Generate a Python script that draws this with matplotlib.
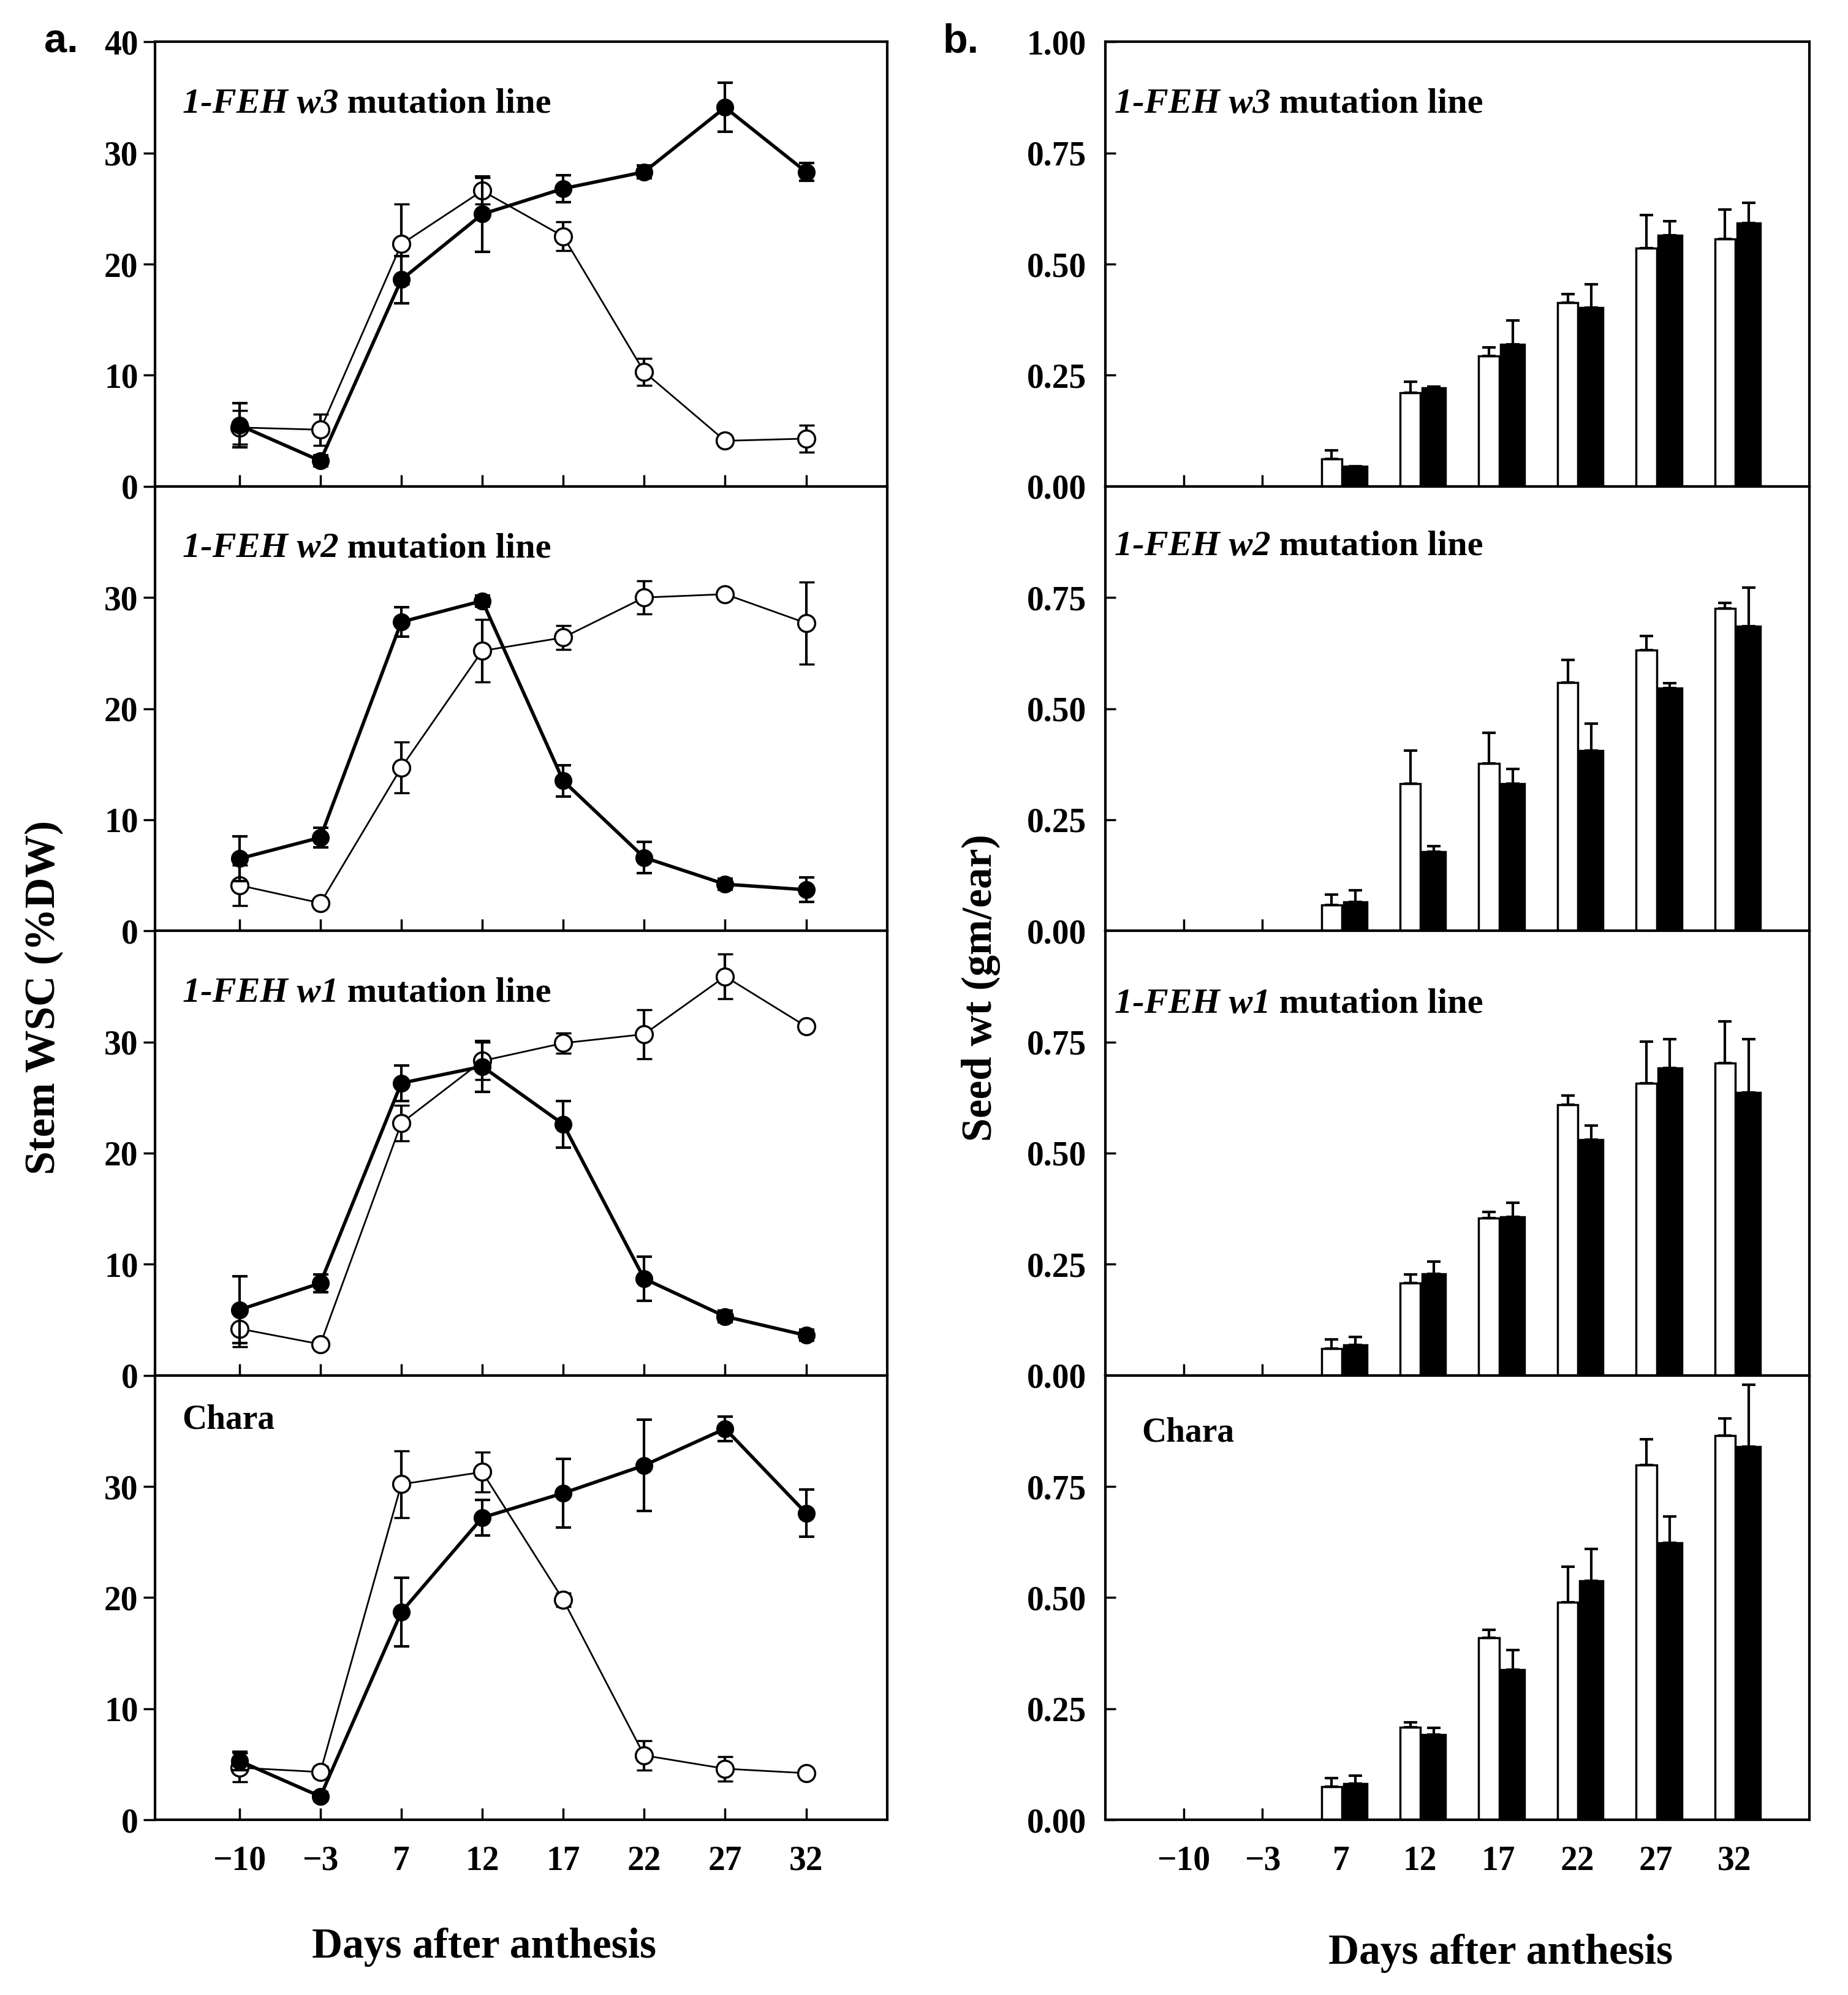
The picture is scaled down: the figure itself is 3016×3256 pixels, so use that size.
import matplotlib
matplotlib.use("Agg")
import matplotlib.pyplot as plt
import numpy as np

# x categories (days after anthesis)
days = [-10, -3, 7, 12, 17, 22, 27, 32]
bar_days = [7, 12, 17, 22, 27, 32]
panel_names = ["w3", "w2", "w1", "Chara"]

# stem WSC (%DW), open = first genotype, filled = second
wsc_open = {
    "w3": [5.3, 5.1, 21.8, 26.6, 22.5, 10.3, 4.1, 4.3],
    "w2": [4.1, 2.5, 14.7, 25.2, 26.4, 30.0, 30.3, 27.7],
    "w1": [4.2, 2.8, 22.7, 28.3, 29.9, 30.7, 35.9, 31.4],
    "Chara": [4.7, 4.3, 30.2, 31.3, 19.8, 5.8, 4.6, 4.2],
}
wsc_open_err = {
    "w3": [1.5, 1.4, 3.6, 1.2, 1.3, 1.2, 0.4, 1.2],
    "w2": [1.8, 0.3, 2.3, 2.8, 1.1, 1.5, 0.3, 3.7],
    "w1": [1.6, 0.3, 1.6, 1.7, 0.9, 2.2, 2.0, 0.3],
    "Chara": [1.3, 0.5, 3.0, 1.8, 0.6, 1.3, 1.1, 0.3],
}
wsc_fill = {
    "w3": [5.5, 2.3, 18.6, 24.5, 26.8, 28.3, 34.1, 28.3],
    "w2": [6.5, 8.4, 27.8, 29.7, 13.5, 6.6, 4.2, 3.7],
    "w1": [5.9, 8.3, 26.3, 27.8, 22.6, 8.7, 5.3, 3.6],
    "Chara": [5.3, 2.1, 18.7, 27.2, 29.4, 31.9, 35.2, 27.6],
}
wsc_fill_err = {
    "w3": [2.0, 0.5, 2.1, 3.4, 1.2, 0.6, 2.2, 0.8],
    "w2": [2.0, 0.9, 1.3, 0.5, 1.4, 1.4, 0.5, 1.1],
    "w1": [3.0, 0.8, 1.6, 2.3, 2.1, 2.0, 0.5, 0.5],
    "Chara": [0.8, 0.4, 3.1, 1.6, 3.1, 4.1, 1.1, 2.1],
}

# seed wt (gm/ear)
seed_open = {
    "w3": [0.062, 0.210, 0.293, 0.413, 0.536, 0.557],
    "w2": [0.058, 0.331, 0.377, 0.558, 0.631, 0.725],
    "w1": [0.060, 0.208, 0.354, 0.609, 0.657, 0.703],
    "Chara": [0.074, 0.209, 0.409, 0.489, 0.798, 0.865],
}
seed_open_err = {
    "w3": [0.019, 0.025, 0.019, 0.020, 0.074, 0.066],
    "w2": [0.024, 0.074, 0.068, 0.052, 0.033, 0.013],
    "w1": [0.021, 0.019, 0.014, 0.021, 0.094, 0.093],
    "Chara": [0.020, 0.011, 0.019, 0.080, 0.058, 0.038],
}
seed_fill = {
    "w3": [0.045, 0.221, 0.320, 0.402, 0.565, 0.593],
    "w2": [0.065, 0.178, 0.331, 0.405, 0.546, 0.685],
    "w1": [0.068, 0.229, 0.356, 0.530, 0.692, 0.637],
    "Chara": [0.082, 0.192, 0.338, 0.538, 0.623, 0.839],
}
seed_fill_err = {
    "w3": [0.0, 0.004, 0.053, 0.052, 0.031, 0.045],
    "w2": [0.026, 0.012, 0.033, 0.061, 0.011, 0.087],
    "w1": [0.019, 0.027, 0.032, 0.032, 0.065, 0.120],
    "Chara": [0.018, 0.015, 0.044, 0.071, 0.060, 0.140],
}

serif = "Liberation Serif"
plt.rcParams["font.family"] = serif
plt.rcParams["font.weight"] = "bold"

fig = plt.figure(figsize=(30.16, 32.56), dpi=100)

x = np.arange(len(days))
xb = np.array([days.index(d) for d in bar_days])
day_labels = [str(d).replace("-", "\u2212") for d in days]

bottom = 0.0878
h = 0.2228
spine_w = 3.0


def add_label(ax, name, xpos, ypos):
    if name == "Chara":
        ax.text(xpos, ypos, "Chara", transform=ax.transAxes, fontsize=40,
                fontweight="bold", va="center", ha="left")
        return
    t1 = ax.text(xpos, ypos, "1-FEH " + name, transform=ax.transAxes,
                 fontsize=42, fontweight="bold", style="italic",
                 va="center", ha="left")
    ax.annotate(" mutation line", xy=(1, 0.5), xycoords=t1, fontsize=42,
                fontweight="bold", va="center", ha="left")


# panel a: line plots
for i, name in enumerate(panel_names):
    ax = fig.add_axes([0.084, bottom + (3 - i) * h, 0.396, h])
    ax.errorbar(x, wsc_open[name], yerr=wsc_open_err[name], fmt="o-",
                color="black", mfc="white", mec="black", mew=2.5, ms=20,
                lw=2, elinewidth=3, capsize=9, capthick=3, zorder=3)
    ax.errorbar(x, wsc_fill[name], yerr=wsc_fill_err[name], fmt="o-",
                color="black", mfc="black", mec="black", ms=20,
                lw=4, elinewidth=3, capsize=9, capthick=3, zorder=4)
    ax.set_xlim(-1.04, 8.0)
    ax.set_ylim(0, 40)
    ax.set_xticks(x)
    ax.set_yticks([0, 10, 20, 30, 40] if i == 0 else [0, 10, 20, 30])
    ax.tick_params(axis="x", direction="in", length=14, width=2.5,
                   labelsize=40, pad=30)
    ax.tick_params(axis="y", direction="out", length=14, width=2.5,
                   labelsize=40, pad=6)
    if i == 3:
        ax.set_xticklabels(day_labels)
    else:
        ax.set_xticklabels([])
    for s in ax.spines.values():
        s.set_linewidth(spine_w)
    add_label(ax, name, 0.037, 0.86 if name != "Chara" else 0.90)

# panel b: bar charts
for i, name in enumerate(panel_names):
    ax = fig.add_axes([0.598, bottom + (3 - i) * h, 0.381, h])
    ax.bar(xb - 0.12, seed_open[name], width=0.26, color="white",
           edgecolor="black", linewidth=2.5, zorder=2)
    ax.bar(xb + 0.18, seed_fill[name], width=0.30, color="black",
           edgecolor="black", linewidth=2.5, zorder=2)
    ax.errorbar(xb - 0.12, seed_open[name],
                yerr=[np.zeros(len(xb)), seed_open_err[name]], fmt="none",
                ecolor="black", elinewidth=3, capsize=8, capthick=3, zorder=3)
    ax.errorbar(xb + 0.18, seed_fill[name],
                yerr=[np.zeros(len(xb)), seed_fill_err[name]], fmt="none",
                ecolor="black", elinewidth=3, capsize=8, capthick=3, zorder=3)
    ax.set_xlim(-1.0, 7.95)
    ax.set_ylim(0, 1.0)
    ax.set_xticks(x)
    ax.set_yticks([0, 0.25, 0.5, 0.75, 1.0] if i == 0 else [0, 0.25, 0.5, 0.75])
    ax.yaxis.set_major_formatter(matplotlib.ticker.FormatStrFormatter("%.2f"))
    ax.tick_params(axis="x", direction="in", length=14, width=2.5,
                   labelsize=40, pad=30)
    ax.tick_params(axis="y", direction="in", length=12, width=2.5,
                   labelsize=40, pad=22)
    if i == 3:
        ax.set_xticklabels(day_labels)
    else:
        ax.set_xticklabels([])
    for s in ax.spines.values():
        s.set_linewidth(spine_w)
    ypos = {"w3": 0.86, "w2": 0.865, "w1": 0.835, "Chara": 0.87}[name]
    add_label(ax, name, 0.013 if name != "Chara" else 0.052, ypos)

# axis titles and panel letters
fig.text(0.024, 0.5, "Stem WSC (%DW)", rotation=90, fontsize=50,
         fontweight="bold", ha="center", va="center")
fig.text(0.531, 0.505, "Seed wt (gm/ear)", rotation=90, fontsize=50,
         fontweight="bold", ha="center", va="center")
fig.text(0.262, 0.024, "Days after anthesis", fontsize=50,
         fontweight="bold", ha="center", va="center")
fig.text(0.812, 0.021, "Days after anthesis", fontsize=50,
         fontweight="bold", ha="center", va="center")
fig.text(0.024, 0.979, "a.", fontsize=48, fontweight="bold",
         family="Liberation Sans", ha="left", va="center")
fig.text(0.510, 0.979, "b.", fontsize=48, fontweight="bold",
         family="Liberation Sans", ha="left", va="center")

fig.savefig("out.png", dpi=100)
